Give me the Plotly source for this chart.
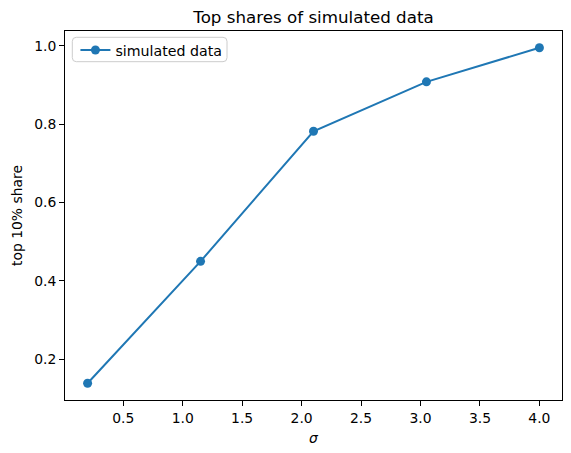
import plotly.graph_objects as go

# values
sigma = [0.2, 1.15, 2.1, 3.05, 4.0]
top_share = [0.139, 0.45, 0.782, 0.908, 0.995]

x_ticks = [0.5, 1.0, 1.5, 2.0, 2.5, 3.0, 3.5, 4.0]
y_ticks = [0.2, 0.4, 0.6, 0.8, 1.0]

BLUE = "#1f77b4"
FONT = "DejaVu Sans"

W, H = 571, 453
ML, MR, MT, MB = 65, 9, 31, 53
PW, PH = W - ML - MR, H - MT - MB

fig = go.Figure()
fig.add_trace(go.Scatter(
    x=sigma, y=top_share, mode="lines+markers", name="simulated data",
    line=dict(color=BLUE, width=2),
    marker=dict(color=BLUE, size=9),
))

axis_style = dict(
    showline=True, linecolor="black", linewidth=1, mirror=True,
    ticks="outside", ticklen=5, tickwidth=1, tickcolor="black",
    showgrid=False, zeroline=False, automargin=False,
    tickfont=dict(family=FONT, size=13.9, color="black"),
)

fig.update_xaxes(
    range=[0.01, 4.19], tickvals=x_ticks,
    ticktext=[f"{v:.1f}" for v in x_ticks],
    title=dict(text="<i>σ</i>", font=dict(family=FONT, size=13.9, color="black"), standoff=8),
    **axis_style,
)
fig.update_yaxes(
    range=[0.0963, 1.0377], tickvals=y_ticks,
    ticktext=[f"{v:.1f}" for v in y_ticks],
    title=dict(text="top 10% share", font=dict(family=FONT, size=13.9, color="black"), standoff=8),
    **axis_style,
)


def rounded_box(x0, y0, x1, y1, r=4):
    """Rounded rectangle path in paper coords, from pixel coords (top-left origin)."""
    def px(x):
        return (x - ML) / PW

    def py(y):
        return (H - MB - y) / PH

    return (f"M {px(x0 + r)},{py(y0)} L {px(x1 - r)},{py(y0)} "
            f"Q {px(x1)},{py(y0)} {px(x1)},{py(y0 + r)} L {px(x1)},{py(y1 - r)} "
            f"Q {px(x1)},{py(y1)} {px(x1 - r)},{py(y1)} L {px(x0 + r)},{py(y1)} "
            f"Q {px(x0)},{py(y1)} {px(x0)},{py(y1 - r)} L {px(x0)},{py(y0 + r)} "
            f"Q {px(x0)},{py(y0)} {px(x0 + r)},{py(y0)} Z")


# legend frame drawn like matplotlib's (rounded, light grey)
fig.add_shape(type="path", xref="paper", yref="paper",
              path=rounded_box(72.3, 37.3, 227, 61.7),
              line=dict(color="#cccccc", width=1), fillcolor="rgba(255,255,255,0.8)",
              layer="above")

fig.update_layout(
    width=W, height=H,
    margin=dict(l=ML, r=MR, t=MT, b=MB),
    paper_bgcolor="white", plot_bgcolor="white",
    font=dict(family=FONT, color="black"),
    title=dict(text="Top shares of simulated data", x=0.5, xref="paper", xanchor="center",
               y=1, yref="paper", yanchor="bottom", pad=dict(b=8), automargin=False,
               font=dict(family=FONT, size=16.7, color="black")),
    showlegend=True,
    legend=dict(x=0.021, y=0.991, xanchor="left", yanchor="top",
                borderwidth=0, bgcolor="rgba(0,0,0,0)",
                tracegroupgap=0, itemwidth=30,
                font=dict(family=FONT, size=14.2, color="black")),
)

# drop the browser's default page margin so the figure sits at the window corner
fig.write_html("out.html", config={"displayModeBar": False},
               post_script="document.body.style.margin='0';")
